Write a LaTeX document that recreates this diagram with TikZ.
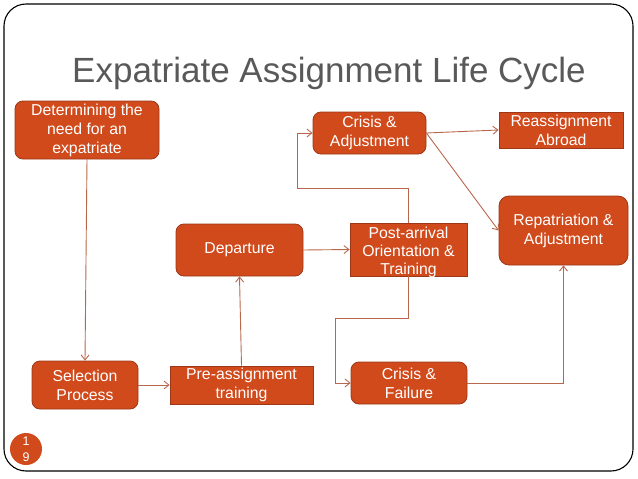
\documentclass[tikz,border=0pt]{standalone}
\usepackage{fontspec}
\setmainfont{Liberation Sans}
\usetikzlibrary{arrows.meta}

\definecolor{stagefill}{HTML}{D04A1C}
\definecolor{stageline}{HTML}{9C3817}
\definecolor{linkcol}{HTML}{B8674C}
\definecolor{titlegray}{HTML}{595959}

\begin{document}
\begin{tikzpicture}[
  x=1pt, y=-1pt,
  font=\fontsize{15.8}{19}\selectfont,
  >={Straight Barb[length=5pt, width=8pt]},
  stage/.style={draw=stageline, line width=0.8pt, fill=stagefill, text=white,
                align=center, inner sep=0pt, rounded corners=#1},
  stage/.default=8pt,
  flatstage/.style={stage=0pt},
  stagetext/.style={text=white, align=center, inner sep=0pt,
                    font=\fontsize{15.8}{18}\selectfont},
  flow/.style={->, line width=0.9pt, draw=linkcol},
  frame/.style={draw=black, line width=1.1pt, rounded corners=22pt},
  pgnum/.style={circle, fill=stagefill, text=white, inner sep=0pt, minimum size=32pt,
                align=center, font=\fontsize{12.5}{16}\selectfont},
]
\useasboundingbox (0,0) rectangle (638,479);

% ---------- Slide ----------
\draw[frame] (4,4) rectangle (633,471);
\node[text=titlegray, font=\fontsize{35}{40}\selectfont] (title) at (329,73)
  {Expatriate Assignment Life Cycle};
\node[pgnum] (page) at (26,449) {1\\9};

% ---------- Stages ----------
\node[stage, minimum width=144pt, minimum height=58pt] (need) at (87,130)
  {Determining the\\need for an\\expatriate};
\node[stage, minimum width=106pt, minimum height=48pt] (sel) at (85,385)
  {Selection\\Process};
\node[flatstage, minimum width=143pt, minimum height=38pt] (pre) at (241.5,385)
  {Pre-assignment\\training};
\node[stage, minimum width=127pt, minimum height=52pt] (dep) at (239.5,250)
  {Departure};
\node[flatstage, minimum width=117pt, minimum height=53pt,
      label={[stagetext, yshift=-2.5pt]center:{Post-arrival\\Orientation \&\\Training}}]
      (post) at (408.5,249.5) {};
\node[stage, minimum width=113pt, minimum height=42pt] (cadj) at (369.5,133)
  {Crisis \&\\Adjustment};
\node[flatstage, minimum width=124pt, minimum height=36pt] (reas) at (561,130)
  {Reassignment\\Abroad};
\node[stage=10pt, minimum width=129pt, minimum height=69pt] (repat) at (563.5,230.5)
  {Repatriation \&\\Adjustment};
\node[stage, minimum width=116pt, minimum height=42pt] (cfail) at (409,383)
  {Crisis \&\\Failure};

% ---------- Links ----------
\coordinate (topbend) at (297,188);
\coordinate (lowbend) at (335,318);
\draw[flow] (need.south) -- (sel.north);
\draw[flow] (sel.east) -- (pre.west);
\draw[flow] (pre.north) -- (dep.south);
\draw[flow] (dep.east) -- (post.west);
\draw[flow] (post.north) |- (topbend) |- (cadj.west);
\draw[flow] (post.south) |- (lowbend) |- (cfail.west);
\draw[flow] (cfail.east) -| (repat.south);
\draw[flow] (cadj.east) -- (reas.west);
\draw[flow] (cadj.east) -- (repat.west);

\end{tikzpicture}
\end{document}
